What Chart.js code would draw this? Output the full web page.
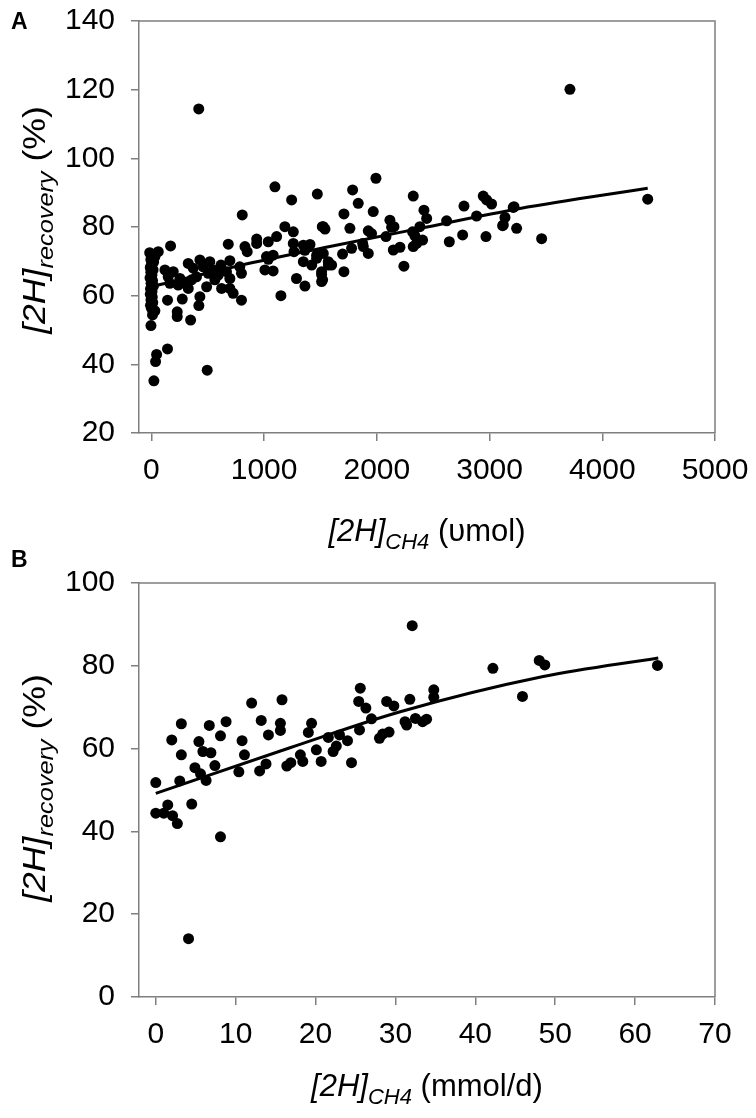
<!DOCTYPE html>
<html>
<head>
<meta charset="utf-8">
<script src="https://cdn.jsdelivr.net/npm/chart.js@4.4.1/dist/chart.umd.min.js"></script>
<style>
  html, body { margin: 0; padding: 0; background: #fff; }
  #wrap { position: relative; width: 756px; height: 1118px; }
  canvas { position: absolute; left: 0; top: 0; }
</style>
</head>
<body>
<div id="wrap">
  <canvas id="chartA" width="756" height="1118"></canvas>
  <canvas id="chartB" width="756" height="1118"></canvas>
</div>
<script>
// ---- Panel A: [2H]CH4 (umol) vs [2H]recovery (%) ----
const xTicksA = [0, 1000, 2000, 3000, 4000, 5000];
const yTicksA = [20, 40, 60, 80, 100, 120, 140];
const pointsAX = [
  -15, 10, -5, 20, 0, -10, 15, -5, 5, -12, 10, -3, 18, -8, 5, -10, 8, -4, 12, -8, 0, 31, 10, -4, 61, 31, 46, 37, 22, 143,
  1096, 1244, 1472, 806, 170, 682, 1184, 1259, 1516, 1540, 934, 934, 830, 850, 1037, 1111, 1259, 1265, 1348, 1407,
  1362, 1466, 1021, 1080, 1037, 696, 784, 799, 1007, 1080, 1287, 1362, 1510, 1510, 1149, 799, 617, 666, 696, 623,
  696, 725, 518, 430, 327, 371, 460, 504, 490, 430, 421, 348, 229, 229, 274, 143, 120, 194, 149, 164,
  238, 297, 327, 495, 253, 356, 400, 548, 563, 593, 1348, 1422, 1466, 1570, 420,
  1992, 1785, 2323, 1835, 1708, 1968, 2944, 2974, 3018, 2773, 3217, 1525, 1761, 2116, 2152, 2418, 2442, 2619, 2885, 3137,
  3122, 3240, 1924, 1953, 1874, 1924, 2081, 2131, 2317, 2338, 2353, 2382, 2323, 2406, 2643, 2761, 2968, 2146, 2205, 2240,
  1708, 1525, 1569, 1510, 1519, 1599, 1696, 1776, 1880,
  3713, 4403, 3462, 3210, 3116
];
const pointsAY = [
  72.5, 71.5, 70.5, 69.8, 69, 68.2, 67.5, 66.8, 66, 65.2, 64.4, 63.6, 62.8, 62, 61.2, 60.4, 59.6, 58.8, 58, 57.2, 56.3, 55.6, 54.4, 51.3, 72.8, 71.4, 42.9, 40.8, 35.2, 44.5,
  91.7, 87.9, 89.6, 83.5, 74.5, 75, 80.1, 78.6, 80.1, 79.4, 76.5, 75.2, 74.3, 72.8, 75.7, 77.2, 75.2, 72.8, 74.7, 74.9,
  73.2, 71.8, 71.4, 71.8, 70.6, 70.2, 68.4, 66.5, 67.5, 67.2, 65, 62.8, 66.2, 64.1, 60, 58.7, 68.9, 67, 65, 62.1,
  62.1, 60.7, 69.9, 70.4, 69.4, 68, 68.4, 66.5, 62.6, 59.7, 57.1, 52.9, 55.3, 53.9, 59, 58.7, 67.5, 67, 65.5, 63.6,
  63.1, 63.6, 62.1, 38.3, 65, 64.6, 65.5, 67.5, 64.6, 66, 69.9, 68.9, 70.9, 68.9, 114.4,
  94.2, 90.8, 89, 86.9, 83.8, 84.5, 89, 87.9, 86.7, 86.1, 85.9, 80.1, 79.6, 82, 80.1, 84.9, 82.5, 81.8, 83.2, 82.8,
  80.6, 79.6, 78.9, 78.1, 75.2, 72.3, 77.2, 79.9, 78.6, 77.4, 75.2, 80.1, 74.3, 76.2, 75.7, 77.7, 77.2, 73.3, 74.1, 68.6,
  67, 72.3, 69.9, 67, 64.6, 68.9, 72.1, 73.8, 74.3,
  120.1, 88.1, 76.6, 85.7, 80.4
];
const fitAX = [0, 785, 1584, 2382, 3270, 4403];
const fitAY = [62.6, 68.8, 74.3, 79.6, 85.4, 91.3];

// ---- Panel B: [2H]CH4 (mmol/d) vs [2H]recovery (%) ----
const xTicksB = [0, 10, 20, 30, 40, 50, 60, 70];
const yTicksB = [0, 20, 40, 60, 80, 100];
const pointsBX = [
  0, 0, 1, 1.5, 2.1, 2.7, 4.5, 8.1, 4.1, 3, 3.2, 2, 3.2, 4.9, 5.4, 5.9, 5.6, 6.3, 6.9, 6.7,
  7.4, 8.1, 8.8, 10.4, 10.8, 11.1, 12, 13, 13.8, 13.2, 14.1, 15.6, 15.8, 15.6, 16.4, 16.9, 18.1, 18.4, 19.5, 19.1,
  20.1, 20.7, 21.6, 22.2, 22.6, 23, 24, 24.5, 25.5, 25.6, 25.4, 26.3, 27, 28, 28.4, 28.9, 29.2, 29.8, 31.2, 31.4,
  31.8, 32.5, 33.4, 33.9, 34.8, 34.8, 32.1, 42.2, 45.9, 48, 48.7, 62.8
];
const pointsBY = [
  51.8, 44.4, 44.4, 46.4, 43.8, 41.9, 46.6, 38.7, 14.1, 52.2, 66, 62.1, 58.5, 55.4, 61.7, 59.3, 53.9, 52.3, 59, 65.6,
  55.9, 63.1, 66.5, 54.4, 61.9, 58.5, 71, 54.6, 56.3, 66.8, 63.3, 64.4, 71.8, 66.1, 55.8, 56.6, 58.5, 56.9, 66.1, 63.9,
  59.7, 56.9, 62.7, 59.3, 60.6, 63.3, 61.9, 56.6, 64.5, 74.6, 71.4, 69.8, 67.2, 62.5, 63.5, 71.4, 64, 70.3, 66.5, 65.7,
  71.9, 67.3, 66.5, 67.1, 74.2, 72.4, 89.7, 79.4, 72.6, 81.3, 80.2, 80.1
];
const fitBX = [0, 16.8, 30.6, 48.5, 62.9];
const fitBY = [49.2, 60.2, 68.9, 77.4, 81.9];

// texts
const yTitleParts = [['[2H]', 'it'], ['recovery', 'sub'], [' (%)', 'n']];
const xTitleAParts = [['[2H]', 'it'], ['CH4', 'sub'], [' (\u03c5mol)', 'n']];
const xTitleBParts = [['[2H]', 'it'], ['CH4', 'sub'], [' (mmol/d)', 'n']];

const FAMILY = '"Liberation Sans", Arial, sans-serif';
const AXIS_GREY = '#7f7f7f';
const W = 756, H = 1118;

function zip(xs, ys) {
  return xs.map((x, i) => ({ x: x, y: ys[i] }));
}

function fontFor(kind) {
  if (kind === 'it') return 'italic 31px ' + FAMILY;
  if (kind === 'sub') return 'italic 22px ' + FAMILY;
  return '31px ' + FAMILY;
}

// draws mixed italic / subscript text centred on (0,0) baseline, in current transform
function drawParts(ctx, parts) {
  let w = 0;
  parts.forEach(p => { ctx.font = fontFor(p[1]); w += ctx.measureText(p[0]).width; });
  let x = -w / 2;
  parts.forEach(p => {
    ctx.font = fontFor(p[1]);
    ctx.fillText(p[0], x, p[1] === 'sub' ? 8 : 0);
    x += ctx.measureText(p[0]).width;
  });
}

const richTitles = {
  id: 'richTitles',
  afterDraw(chart, args, opts) {
    const ctx = chart.ctx;
    const a = chart.chartArea;
    ctx.save();
    // frame top + right
    ctx.strokeStyle = AXIS_GREY;
    ctx.lineWidth = 1.5;
    ctx.beginPath();
    ctx.moveTo(a.left, a.top);
    ctx.lineTo(a.right, a.top);
    ctx.lineTo(a.right, a.bottom);
    ctx.stroke();

    ctx.fillStyle = '#000';
    ctx.textBaseline = 'alphabetic';
    ctx.textAlign = 'left';

    // x title
    ctx.save();
    ctx.translate((a.left + a.right) / 2, opts.xBase);
    drawParts(ctx, opts.xParts);
    ctx.restore();

    // y title, rotated
    ctx.save();
    ctx.translate(opts.yBase, opts.yMid);
    ctx.rotate(-Math.PI / 2);
    ctx.scale(1.15, 1);
    drawParts(ctx, yTitleParts);
    ctx.restore();

    // panel letter
    ctx.font = 'bold 23px ' + FAMILY;
    ctx.fillText(opts.letter, 11, opts.letterBase);
    ctx.restore();
  }
};

function makeChart(id, cfg) {
  const ctx = document.getElementById(id).getContext('2d');
  return new Chart(ctx, {
    type: 'scatter',
    data: {
      datasets: [{
        data: zip(cfg.px, cfg.py),
        backgroundColor: '#000',
        borderWidth: 0,
        pointRadius: 5.5,
        pointHoverRadius: 5.5
      }, {
        type: 'line',
        data: zip(cfg.fx, cfg.fy),
        borderColor: '#000',
        borderWidth: 3,
        pointRadius: 0,
        fill: false,
        cubicInterpolationMode: 'monotone'
      }]
    },
    options: {
      responsive: false,
      animation: false,
      devicePixelRatio: 1,
      layout: { padding: { left: 0, right: W - 715, top: cfg.top, bottom: 0 } },
      plugins: {
        legend: { display: false },
        tooltip: { enabled: false },
        richTitles: {
          xParts: cfg.xParts, xBase: cfg.xBase,
          yBase: 45, yMid: cfg.yMid,
          letter: cfg.letter, letterBase: cfg.letterBase
        }
      },
      scales: {
        x: {
          type: 'linear',
          min: cfg.xMin, max: cfg.xMax,
          afterBuildTicks: s => { s.ticks = cfg.xTicks.map(v => ({ value: v })); },
          afterFit: s => { s.height = H - cfg.bottom; s.paddingLeft = 0; s.paddingRight = 0; },
          ticks: { color: '#000', font: { family: FAMILY, size: 30 }, padding: 12, maxRotation: 0, autoSkip: false,
                   callback: v => String(v) },
          grid: { drawOnChartArea: false, drawTicks: true, tickLength: 8, color: AXIS_GREY, lineWidth: 1.5 },
          border: { display: true, color: AXIS_GREY, width: 1.5 }
        },
        y: {
          type: 'linear',
          min: cfg.yMin, max: cfg.yMax,
          afterBuildTicks: s => { s.ticks = cfg.yTicks.map(v => ({ value: v })); },
          afterFit: s => { s.width = 139; s.paddingTop = 0; s.paddingBottom = 0; },
          ticks: { color: '#000', font: { family: FAMILY, size: 30 }, padding: 16, autoSkip: false,
                   callback: v => String(v) },
          grid: { drawOnChartArea: false, drawTicks: true, tickLength: 8, color: AXIS_GREY, lineWidth: 1.5 },
          border: { display: true, color: AXIS_GREY, width: 1.5 }
        }
      }
    },
    plugins: [richTitles]
  });
}

makeChart('chartA', {
  px: pointsAX, py: pointsAY, fx: fitAX, fy: fitAY,
  xTicks: xTicksA, yTicks: yTicksA,
  xMin: -110, xMax: 5000, yMin: 20, yMax: 140,
  top: 21, bottom: 433,
  xParts: xTitleAParts, xBase: 541, yMid: 220,
  letter: 'A', letterBase: 29
});

makeChart('chartB', {
  px: pointsBX, py: pointsBY, fx: fitBX, fy: fitBY,
  xTicks: xTicksB, yTicks: yTicksB,
  xMin: -2.1, xMax: 70, yMin: 0, yMax: 100,
  top: 583, bottom: 997,
  xParts: xTitleBParts, xBase: 1096, yMid: 788,
  letter: 'B', letterBase: 567
});
</script>
</body>
</html>
